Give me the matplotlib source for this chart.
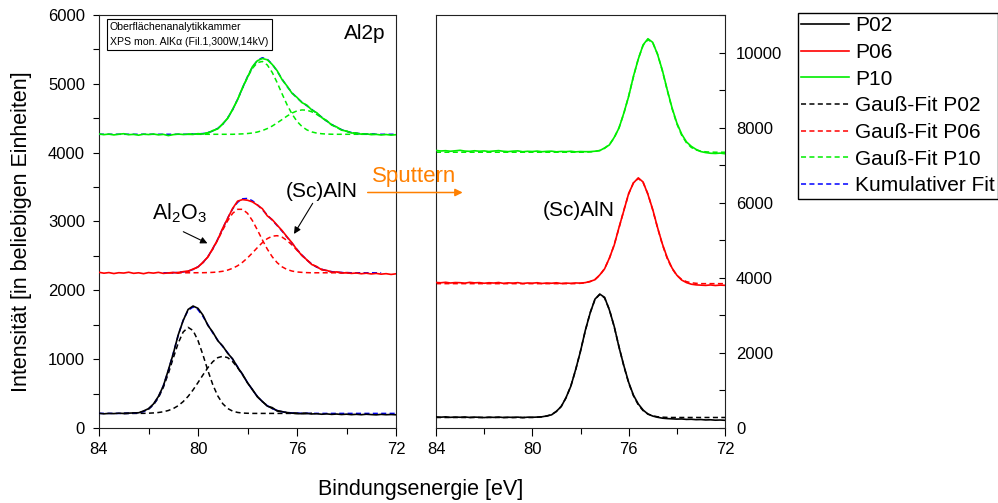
import numpy as np
import matplotlib
matplotlib.use("Agg")
import matplotlib.pyplot as plt
from matplotlib.lines import Line2D
from matplotlib.ticker import MultipleLocator

plt.rcParams['font.family'] = ['Liberation Sans', 'DejaVu Sans']
plt.rcParams['mathtext.fontset'] = 'custom'
plt.rcParams['mathtext.rm'] = 'Liberation Sans'

# Binding energy grid (eV), 84 -> 72 in 0.2 eV steps
energy = np.round(np.linspace(84.0, 72.0, 61), 1)

# ---------------- Al2p, before sputtering (left panel) ----------------
p02_raw = [214, 206, 212, 209, 215, 211, 216, 219, 221, 247, 281, 349, 458, 611, 840,
           1078, 1352, 1560, 1722, 1772, 1738, 1640, 1490, 1392, 1268, 1190, 1085, 1004,
           882, 781, 655, 560, 452, 386, 318, 296, 247, 238, 221, 216, 210, 208, 212, 204,
           207, 200, 205, 198, 203, 196, 201, 194, 199, 193, 200, 195, 191, 198, 193, 196, 192]
p06_raw = [2262, 2249, 2258, 2244, 2256, 2251, 2263, 2247, 2255, 2242, 2258, 2250, 2261, 2246, 2253,
           2259, 2250, 2272, 2276, 2310, 2338, 2409, 2484, 2612, 2738, 2905, 3046, 3190, 3296, 3318,
           3309, 3285, 3238, 3186, 3082, 3027, 2946, 2867, 2776, 2690, 2589, 2506, 2443, 2374, 2345,
           2297, 2290, 2262, 2268, 2251, 2255,
           2246, 2252, 2241, 2249, 2238, 2246, 2235, 2242, 2231, 2240]
p10_raw = [4272, 4262, 4270, 4258, 4268, 4275, 4261, 4266, 4254, 4269, 4263, 4271, 4259, 4266, 4248,
           4262, 4270, 4264, 4268,
           4265, 4276, 4271, 4285, 4322, 4346, 4421, 4498, 4631, 4770, 4948, 5097, 5251, 5336, 5368,
           5349, 5281, 5190, 5059, 4968, 4862, 4803, 4727, 4690, 4619, 4580, 4509, 4466, 4401, 4375,
           4327, 4314, 4286, 4284, 4268, 4273, 4262,
           4266, 4257, 4264, 4255, 4261]

# Gaussian fit components (height above fit baseline): Al2O3 and (Sc)AlN
p02_base = 212
p02_oxide = [0] * 6 + [1, 4, 11, 28, 61, 124, 226, 379, 578, 804, 1021, 1182, 1250, 1204, 1058,
                       850, 622, 415, 253, 141, 71, 33, 14, 5, 2] + [0] * 30
p02_nitride = [0] * 8 + [1, 1, 3, 7, 13, 24, 42, 70, 112, 171, 247, 341, 448, 559, 665, 752, 810,
                         830, 810, 752, 665, 559, 448, 341, 247, 171, 112, 70, 42, 24, 13, 7, 3,
                         1, 1] + [0] * 18
p06_base = 2255
p06_oxide = [0] * 15 + [2, 6, 12, 25, 47, 86, 146, 232, 344, 478, 622, 757, 864, 922, 922, 864,
                        757, 622, 478, 344, 232, 146, 86, 47, 25, 12, 6, 2] + [0] * 18
p06_nitride = [0] * 20 + [1, 1, 3, 6, 12, 22, 39, 65, 102, 153, 216, 289, 366, 438, 496, 532, 539,
                          517, 469, 403, 328, 252, 183, 126, 82, 51, 29, 16, 8, 4, 2] + [0] * 10
p10_base = 4267
p10_oxide = [0] * 19 + [2, 5, 11, 24, 47, 86, 147, 237, 357, 505, 668, 827, 958, 1041, 1058, 1007,
                        898, 749, 585, 428, 294, 188, 113, 64, 34, 17, 8, 3, 1] + [0] * 13
p10_nitride = [0] * 28 + [3, 6, 11, 19, 33, 54, 83, 120, 166, 215, 265, 309, 340, 354, 350, 326,
                          288, 241, 190, 142, 101, 67, 43, 26, 14, 8, 4, 2] + [0] * 5
# energy window of the cumulative fit per sample (eV)
fit_window = {"P02": (84.0, 72.0), "P06": (81.4, 72.6), "P10": (84.0, 72.0)}

# ---------------- Al2p, after sputtering (right panel) ----------------
s02_raw = [295, 288, 297, 284, 292, 286, 294, 281, 290, 285, 278, 289, 283, 292, 279, 287, 282,
           290, 276, 288,
           285, 291, 298, 322, 351, 446, 571, 812, 1115, 1560, 2043, 2601, 3060, 3431, 3566, 3480,
           3142, 2705, 2150, 1661, 1214, 872, 640, 478, 371, 318, 286, 262, 251, 244, 237, 241, 229,
           233, 222, 226, 214, 219, 208, 213, 205]
s06_raw = [3876, 3868, 3881, 3862, 3874, 3870, 3858, 3879, 3866, 3872, 3855, 3869, 3861, 3875, 3852,
           3866, 3859, 3871, 3848, 3863, 3857, 3869, 3850, 3862, 3855, 3868, 3849, 3860, 3853, 3864,
           3858, 3872, 3905, 3949, 4078, 4239, 4527, 4871, 5345, 5790, 6246, 6528, 6662, 6551, 6220,
           5818, 5338, 4901, 4540, 4262, 4070, 3941, 3872, 3830, 3812, 3805, 3798, 3810, 3795, 3806,
           3800]
s10_raw = [7392, 7378, 7386, 7371, 7383, 7396, 7375, 7369, 7384, 7372, 7380, 7365, 7377, 7388, 7370,
           7362, 7374, 7381, 7358, 7370, 7364, 7376, 7359, 7368, 7373, 7356, 7366, 7361, 7371, 7355,
           7364, 7360,
           7361, 7372, 7388, 7459, 7540, 7741, 7992, 8390, 8831, 9372, 9827, 10205, 10368, 10270,
           9948, 9526, 9012, 8530, 8125, 7828, 7620, 7502, 7420, 7362, 7335, 7318, 7312, 7322, 7305]

s02_base = 280
s02_fit = [0] * 20 + [2, 6, 16, 36, 79, 159, 299, 521, 843, 1268, 1775, 2309, 2792, 3138, 3279,
                      3184, 2875, 2412, 1882, 1365, 920, 576, 336, 182, 92, 43, 19, 8, 3] + [0] * 12
s06_base = 3845
s06_fit = [0] * 30 + [9, 23, 53, 113, 221, 401, 671, 1039, 1484, 1959, 2389, 2691, 2800, 2691, 2389,
                      1959, 1484, 1039, 671, 401, 221, 113, 53, 23, 9] + [0] * 6
s10_base = 7345
s10_fit = [0] * 32 + [8, 20, 47, 103, 207, 383, 655, 1032, 1500, 2012, 2491, 2845, 2997, 2914, 2614,
                      2164, 1652, 1164, 757, 454, 251, 128, 60, 26, 11, 4] + [0] * 3

samples = ["P02", "P06", "P10"]
colors = {"P02": "#000000", "P06": "#FF0000", "P10": "#00EE00"}
fit_blue = "#0000FF"
orange = "#FF8000"

W, H = 998, 503


def fig_box(x0, y0, x1, y1):
    return [x0 / W, 1 - y1 / H, (x1 - x0) / W, (y1 - y0) / H]


def fx(px):
    return px / W


def fy(py):
    return 1 - py / H


fig = plt.figure(figsize=(W / 100, H / 100), dpi=100)
ax_l = fig.add_axes(fig_box(99, 15, 396, 428))
ax_r = fig.add_axes(fig_box(436, 15, 725, 428))

LW_DATA = 1.2
LW_FIT = 1.1
DASH = (0, (3.3, 2.2))

# ---- left panel ----
left_sets = {
    "P02": (p02_raw, p02_base, p02_oxide, p02_nitride),
    "P06": (p06_raw, p06_base, p06_oxide, p06_nitride),
    "P10": (p10_raw, p10_base, p10_oxide, p10_nitride),
}
for name in samples:
    raw, base, oxide, nitride = left_sets[name]
    raw = np.asarray(raw, float)
    oxide = np.asarray(oxide, float)
    nitride = np.asarray(nitride, float)
    comp_region = (oxide + nitride) > 0
    idx = np.where(comp_region)[0]
    sl = slice(max(idx[0] - 1, 0), min(idx[-1] + 2, len(energy)))
    c = colors[name]
    ax_l.plot(energy[sl], base + oxide[sl], color=c, lw=LW_FIT, ls=DASH, zorder=2)
    ax_l.plot(energy[sl], base + nitride[sl], color=c, lw=LW_FIT, ls=DASH, zorder=2)
    hi, lo = fit_window[name]
    m = (energy <= hi + 1e-9) & (energy >= lo - 1e-9)
    ax_l.plot(energy[m], (base + oxide + nitride)[m], color=fit_blue, lw=LW_FIT, ls=DASH, zorder=3)
    ax_l.plot(energy, raw, color=c, lw=LW_DATA, zorder=4)

ax_l.set_xlim(84, 72)
ax_l.set_ylim(0, 6000)
ax_l.xaxis.set_major_locator(MultipleLocator(4))
ax_l.xaxis.set_minor_locator(MultipleLocator(2))
ax_l.yaxis.set_major_locator(MultipleLocator(1000))
ax_l.yaxis.set_minor_locator(MultipleLocator(500))
ax_l.tick_params(axis='y', which='both', direction='out', left=True, right=False,
                 length=4, width=0.8, labelsize=12, pad=6)
ax_l.tick_params(axis='x', which='major', direction='out', length=6, width=0.8,
                 labelsize=12, pad=4, top=False)
ax_l.tick_params(axis='x', which='minor', direction='out', length=4, width=0.8, top=False)

# ---- right panel ----
right_sets = {
    "P02": (s02_raw, s02_base, s02_fit),
    "P06": (s06_raw, s06_base, s06_fit),
    "P10": (s10_raw, s10_base, s10_fit),
}
for name in samples:
    raw, base, fit = right_sets[name]
    c = colors[name]
    ax_r.plot(energy, base + np.asarray(fit, float), color=c, lw=LW_FIT, ls=DASH, zorder=2)
    ax_r.plot(energy, np.asarray(raw, float), color=c, lw=LW_DATA, zorder=3)

ax_r.set_xlim(84, 72)
ax_r.set_ylim(0, 11000)
ax_r.xaxis.set_major_locator(MultipleLocator(4))
ax_r.xaxis.set_minor_locator(MultipleLocator(2))
ax_r.yaxis.set_major_locator(MultipleLocator(2000))
ax_r.yaxis.set_minor_locator(MultipleLocator(1000))
ax_r.yaxis.tick_right()
ax_r.tick_params(axis='y', which='both', direction='in', left=False, right=True,
                 length=4, width=0.8, labelsize=12, pad=8)
ax_r.tick_params(axis='x', which='major', direction='out', length=6, width=0.8,
                 labelsize=12, pad=4, top=False)
ax_r.tick_params(axis='x', which='minor', direction='out', length=4, width=0.8, top=False)

for ax in (ax_l, ax_r):
    for sp in ax.spines.values():
        sp.set_linewidth(0.8)
        sp.set_color('#222222')

# ---- annotations ----
fig.text(fx(110), fy(22), "Oberflächenanalytikkammer\nXPS mon. AlK\u03b1 (Fil.1,300W,14kV)",
         fontsize=7.6, ha='left', va='top', linespacing=1.6,
         bbox=dict(boxstyle='square,pad=0.3', fc='white', ec='black', lw=0.8))
fig.text(fx(365), fy(33), "Al2p", fontsize=15, ha='center', va='center')
fig.text(fx(179), fy(213), r"Al$_\mathregular{2}$O$_\mathregular{3}$", fontsize=15.5,
         ha='center', va='center')
fig.text(fx(321.7), fy(191.7), "(Sc)AlN", fontsize=15, ha='center', va='center')
fig.text(fx(578.5), fy(210.7), "(Sc)AlN", fontsize=15, ha='center', va='center')

arrow_kw = dict(arrowstyle='-|>', color='black', lw=0.8, mutation_scale=10, shrinkA=0, shrinkB=0)
ax_l.annotate("", xy=(79.62, 2683), xycoords='data',
              xytext=(fx(183.3), fy(231.7)), textcoords='figure fraction', arrowprops=arrow_kw)
ax_l.annotate("", xy=(76.12, 2819), xycoords='data',
              xytext=(fx(312.7), fy(203.3)), textcoords='figure fraction', arrowprops=arrow_kw)

fig.text(fx(414), fy(176.7), "Sputtern", fontsize=16, color=orange, ha='center', va='center')
fig.patches.append(matplotlib.patches.FancyArrowPatch(
    (fx(367.7), fy(192.5)), (fx(462.7), fy(192.5)), transform=fig.transFigure,
    arrowstyle='-|>', mutation_scale=11, color=orange, lw=1.1, shrinkA=0, shrinkB=0))

fig.text(fx(22), fy(232), "Intensität [in beliebigen Einheiten]", fontsize=15.5,
         rotation=90, ha='center', va='center')
fig.text(fx(421), fy(490), "Bindungsenergie [eV]", fontsize=15.5, ha='center', va='center')

# ---- legend ----
handles = [Line2D([], [], color=colors[n], lw=LW_DATA) for n in samples]
handles += [Line2D([], [], color=colors[n], lw=LW_FIT, ls=DASH) for n in samples]
handles += [Line2D([], [], color=fit_blue, lw=LW_FIT, ls=DASH)]
labels = samples + [f"Gauß-Fit {n}" for n in samples] + ["Kumulativer Fit"]
fig.legend(handles, labels, loc='upper left', bbox_to_anchor=(fx(798), fy(13)),
           bbox_transform=fig.transFigure, fontsize=15, frameon=True, fancybox=False,
           edgecolor='black', framealpha=1, borderaxespad=0, borderpad=0.15,
           labelspacing=0.37, handlelength=2.3, handletextpad=0.3)

fig.savefig("out.png", dpi=100)
